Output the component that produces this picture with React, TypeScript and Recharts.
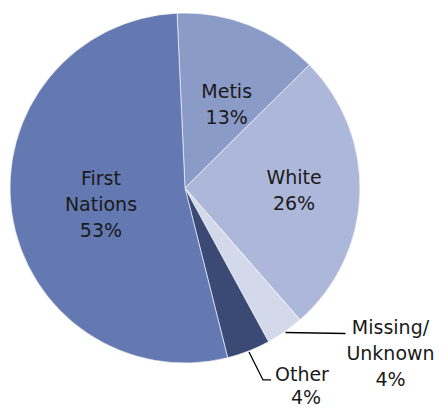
import React from 'react';
import { PieChart, Pie, Cell } from 'recharts';

// slice order runs clockwise from the top
const categories = ['Metis', 'White', 'Missing/Unknown', 'Other', 'First Nations'];
const shares = [13.3, 26.0, 3.5, 4.0, 53.2];
const labelLines = [['Metis'], ['White'], ['Missing/', 'Unknown'], ['Other'], ['First', 'Nations']];

const colors = ['#8b9bc7', '#adb7d9', '#d3d8eb', '#3a4a75', '#6479b1'];

const data = categories.map((name, i) => ({ name, value: shares[i] }));

// inside labels: fraction of radius + small angle nudge; outside labels get a leader line
const inside: Record<number, { r: number; turn: number }> = {
    0: { r: 0.537, turn: -5 },
    1: { r: 0.623, turn: 1 },
    4: { r: 0.489, turn: 2.6 },
};

const FONT = '"DejaVu Sans", sans-serif';
const LINE = 26;
const RAD = Math.PI / 180;

const renderLabel = (props: any) => {
    const { cx, cy, midAngle, outerRadius, percent, index } = props;
    const lines = [...labelLines[index], `${Math.round(percent * 100)}%`];
    const textProps = { fontFamily: FONT, fontSize: 19, fill: '#1a1a1a', dominantBaseline: 'central' as const };

    if (inside[index]) {
        const { r, turn } = inside[index];
        const a = (midAngle + turn) * RAD;
        const x = cx + outerRadius * r * Math.cos(a);
        const y = cy - outerRadius * r * Math.sin(a);
        const top = y - ((lines.length - 1) * LINE) / 2;
        return (
            <g key={`lbl-${index}`}>
                {lines.map((t, i) => (
                    <text key={i} x={x} y={top + i * LINE} textAnchor="middle" {...textProps}>{t}</text>
                ))}
            </g>
        );
    }

    const a = midAngle * RAD;
    const ex = cx + (outerRadius + 1) * Math.cos(a);
    const ey = cy - (outerRadius + 1) * Math.sin(a);

    if (index === 2) {
        // Missing/Unknown - horizontal leader to the right
        const lx = ex + 60;
        const tx = lx + 45;
        const top = ey - 4;
        return (
            <g key={`lbl-${index}`}>
                <polyline points={`${ex},${ey} ${lx},${ey + 1}`} stroke="#000" strokeWidth={1.3} fill="none" />
                {lines.map((t, i) => (
                    <text key={i} x={tx} y={top + i * LINE - 1} textAnchor="middle" {...textProps}>{t}</text>
                ))}
            </g>
        );
    }

    // Other - leader goes down then right
    const bx = ex + 14;
    const by = ey + 28;
    return (
        <g key={`lbl-${index}`}>
            <polyline points={`${ex},${ey} ${bx},${by} ${bx + 8},${by}`} stroke="#000" strokeWidth={1.3} fill="none" />
            <text x={bx + 12} y={by - 6} textAnchor="start" {...textProps}>{lines[0]}</text>
            <text x={bx + 43} y={by + 17} textAnchor="middle" {...textProps}>{lines[1]}</text>
        </g>
    );
};

const App: React.FC = () => {
    return (
        <div style={{ position: 'absolute', left: 0, top: 0, width: 442, height: 409, background: '#fff' }}>
            <PieChart width={442} height={409} margin={{ top: 0, right: 0, bottom: 0, left: 0 }}>
                <Pie
                    data={data}
                    dataKey="value"
                    cx={185}
                    cy={188}
                    outerRadius={175}
                    startAngle={92.6}
                    endAngle={-267.4}
                    stroke="#ffffff"
                    strokeWidth={0.6}
                    label={renderLabel}
                    labelLine={false}
                    isAnimationActive={false}
                >
                    {data.map((entry, index) => (
                        <Cell key={`cell-${index}`} fill={colors[index]} />
                    ))}
                </Pie>
            </PieChart>
        </div>
    );
};

export default App;
